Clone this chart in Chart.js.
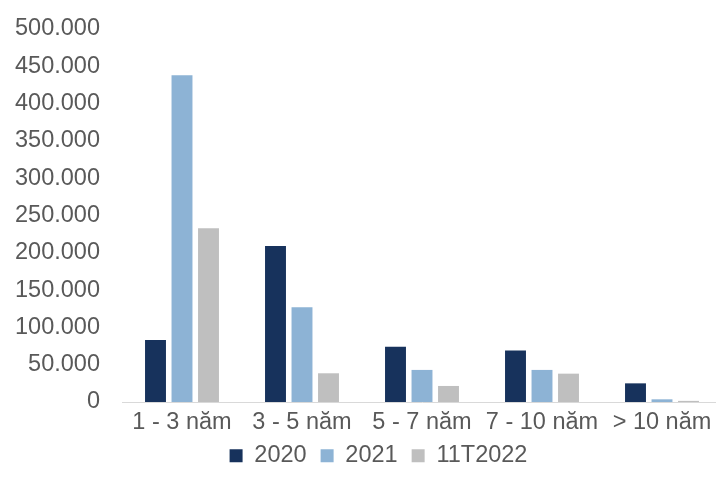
<!DOCTYPE html>
<html>
<head>
<meta charset="utf-8">
<script src="https://cdn.jsdelivr.net/npm/chart.js@4"></script>
<style>
  html, body { margin: 0; padding: 0; background: #fff; overflow: hidden; }
  #wrap { width: 757px; height: 491px; }
</style>
</head>
<body>
<div id="wrap"><canvas id="myChart"></canvas></div>
<script>
const categories = ['1 - 3 năm', '3 - 5 năm', '5 - 7 năm', '7 - 10 năm', '> 10 năm'];
const seriesNames = ['2020', '2021', '11T2022'];
const values2020 = [83000, 209000, 74000, 69000, 25000];
const values2021 = [438000, 127000, 43000, 43000, 3600];
const values11T2022 = [233000, 38500, 21500, 38000, 1500];
const colors = ['#17325c', '#8db3d5', '#bfbfbf'];

const textColor = '#595959';
const font = { family: "'Liberation Sans', Arial, sans-serif", size: 23.5 };

function formatVN(value) {
  return String(value).replace(/\B(?=(\d{3})+(?!\d))/g, '.');
}

// nudge the legend to where the original puts it
const legendShift = {
  id: 'legendShift',
  afterLayout(chart) {
    const lg = chart.legend;
    lg.left += 10;
    lg.right += 10;
    lg.top -= 13.5;
    lg.bottom -= 13.5;
  },
};

const chartConfig = {
  type: 'bar',
  data: {
    labels: categories,
    datasets: [values2020, values2021, values11T2022].map((d, i) => ({
      label: seriesNames[i],
      data: d,
      backgroundColor: colors[i],
      categoryPercentage: 0.6625,
      barPercentage: 0.79,
    })),
  },
  options: {
    responsive: true,
    maintainAspectRatio: false,
    animation: false,
    layout: {
      padding: { left: 15, right: 35, top: 29, bottom: 0 },
    },
    plugins: {
      tooltip: { enabled: false },
      legend: {
        position: 'bottom',
        labels: {
          color: textColor,
          font: font,
          boxWidth: 13,
          boxHeight: 13,
          padding: 14,
        },
      },
    },
    scales: {
      x: {
        grid: { display: false, drawTicks: false },
        border: { display: true, color: '#d9d9d9', width: 1 },
        ticks: {
          color: textColor,
          font: { ...font, lineHeight: 1 },
          padding: 9,
          maxRotation: 0,
        },
      },
      y: {
        min: 0,
        max: 500000,
        grid: { display: false, drawTicks: false },
        border: { display: false },
        afterFit: (scale) => {
          scale.width = 107;
          scale.paddingTop = 0;
        },
        ticks: {
          stepSize: 50000,
          color: textColor,
          font: font,
          padding: 22,
          callback: (value) => formatVN(value),
        },
      },
    },
  },
  plugins: [legendShift],
};

new Chart(document.getElementById('myChart'), chartConfig);
</script>
</body>
</html>
